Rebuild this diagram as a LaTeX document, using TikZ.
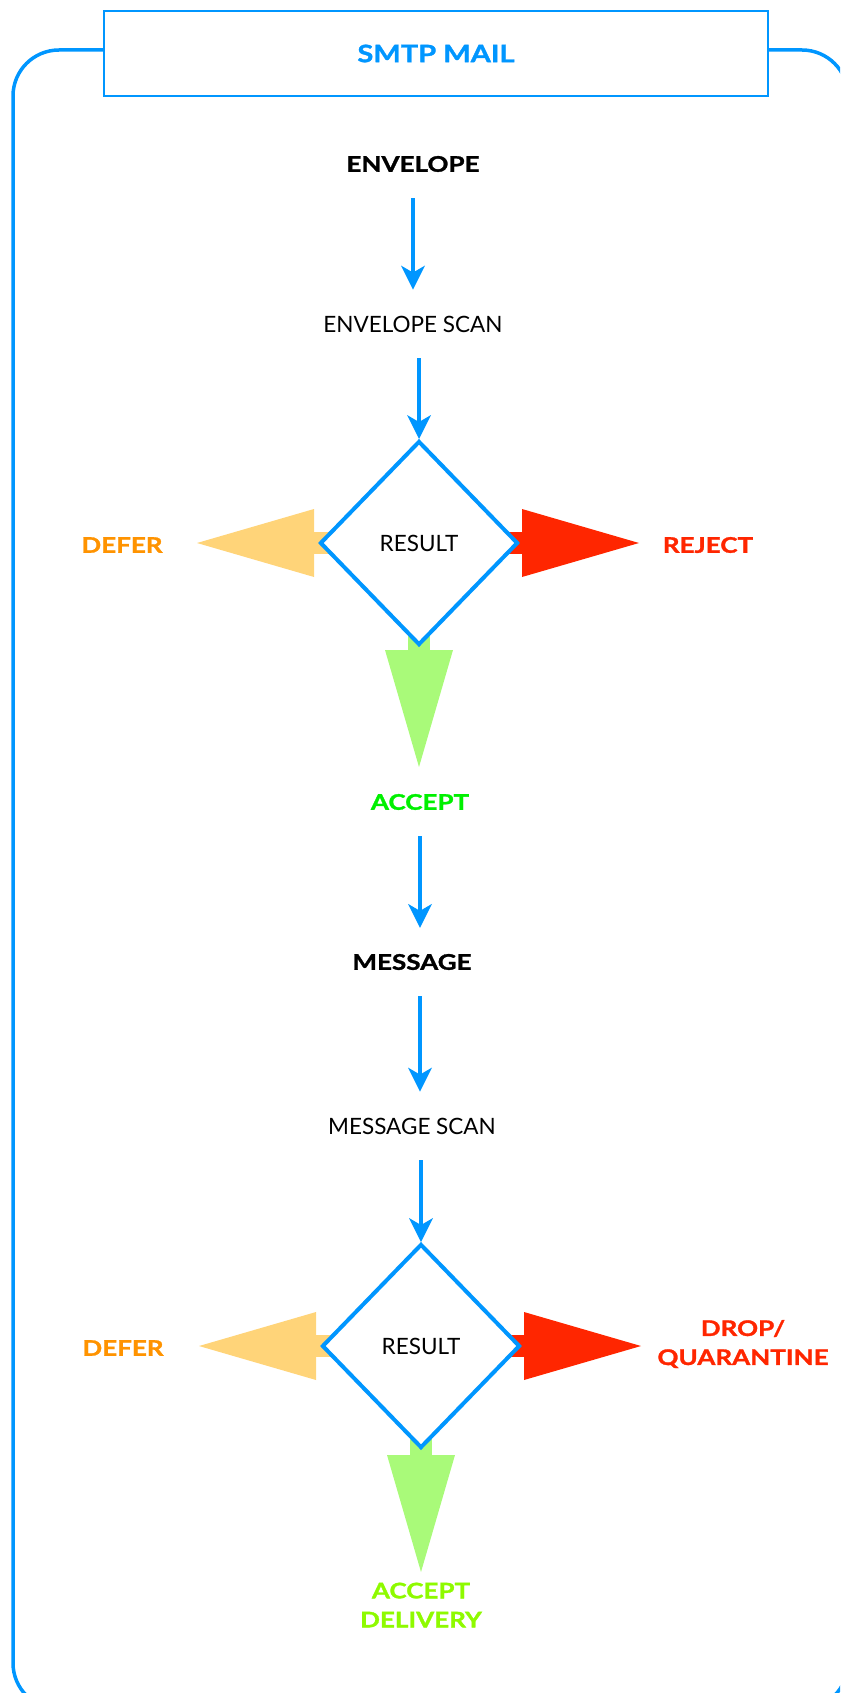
\documentclass[tikz,border=0pt]{standalone}
\usepackage{fontspec}
\setmainfont{Lato}
\newfontfamily\heavyfont{Lato}[FakeBold=1.4, FakeStretch=1.21]
\usetikzlibrary{shapes.geometric,arrows.meta,backgrounds}

\definecolor{aqua}{RGB}{0,150,255}
\definecolor{cantaloupe}{RGB}{255,212,121}
\definecolor{tangerine}{RGB}{255,147,0}
\definecolor{maraschino}{RGB}{255,38,0}
\definecolor{honeydew}{RGB}{169,250,121}
\definecolor{spring}{RGB}{0,240,0}
\definecolor{lime}{RGB}{142,250,0}

\tikzset{
    scan/.style={inner sep=0pt, font=\fontsize{22.5}{26}\selectfont},
    stage/.style={inner sep=0pt, font=\fontsize{21.5}{25}\selectfont\heavyfont\bfseries},
    outcome/.style={stage, align=center, font=\fontsize{21.5}{29}\selectfont\heavyfont\bfseries},
    titlebox/.style={rectangle, draw=aqua, line width=2.5pt, fill=white, text=aqua,
        minimum width=664pt, minimum height=85pt, font=\fontsize{24}{28}\selectfont\heavyfont\bfseries},
    result/.style={diamond, draw=aqua, line width=4pt, fill=white, inner sep=0pt,
        minimum width=198pt, minimum height=204pt, font=\fontsize{22.5}{26}\selectfont},
    flow/.style={draw=aqua, line width=4.5pt, shorten <=26pt, shorten >=26pt,
        -{Stealth[length=24pt,width=24pt,inset=7pt,line width=0pt]}},
    fat/.style={line width=22pt, -{Triangle[length=117pt,width=68pt,line width=0pt]}},
}

\begin{document}
\begin{tikzpicture}[x=1pt,y=-1pt]
    \useasboundingbox (0,0) rectangle (840,1693);
    % outer frame
    \begin{scope}
        \clip (0,0) rectangle (840,1693);
        \draw[aqua, line width=3.5pt, rounded corners=46pt] (13,50) rectangle (848,1709);
    \end{scope}
    \node[titlebox] (title) at (436,53.5) {SMTP MAIL};

    % envelope
    \node[stage] (env) at (413,164) {ENVELOPE};
    \node[scan] (envscan) at (413,324) {ENVELOPE SCAN};
    \node[result] (res1) at (419,543) {RESULT};
    \node[outcome, tangerine] (defer1) at (122,545) {DEFER};
    \node[outcome, maraschino] (reject) at (708,545) {REJECT};
    \node[outcome, spring] (accept) at (420,802) {ACCEPT};
    \coordinate (deferTip1) at (197,543);
    \coordinate (rejectTip) at (639,543);
    \coordinate (acceptTip) at (419,767);

    % message
    \node[stage] (msg) at (412,962) {MESSAGE};
    \node[scan] (msgscan) at (412,1126) {MESSAGE SCAN};
    \node[result] (res2) at (421,1346) {RESULT};
    \node[outcome, tangerine] (defer2) at (123,1348) {DEFER};
    \node[outcome, maraschino] (drop) at (743,1344) {DROP/\\QUARANTINE};
    \node[outcome, lime] (deliver) at (421,1605) {ACCEPT\\DELIVERY};
    \coordinate (deferTip2) at (199,1346);
    \coordinate (dropTip) at (641,1346);
    \coordinate (deliverTip) at (421,1572);

    % flow
    \draw[flow] (env) -- (envscan);
    \draw[flow, shorten >=0pt] (envscan.south -| res1) -- (res1.north);
    \draw[flow] (accept) -- (accept |- msg.north);
    \draw[flow] (msg.south -| accept) -- (msgscan.north -| accept);
    \draw[flow, shorten >=0pt] (msgscan.south -| res2) -- (res2.north);

    % results
    \begin{scope}[on background layer]
        \draw[fat, cantaloupe] (res1.center) -- (deferTip1);
        \draw[fat, maraschino] (res1.center) -- (rejectTip);
        \draw[fat, honeydew] (res1.center) -- (acceptTip);
        \draw[fat, cantaloupe] (res2.center) -- (deferTip2);
        \draw[fat, maraschino] (res2.center) -- (dropTip);
        \draw[fat, honeydew] (res2.center) -- (deliverTip);
    \end{scope}
\end{tikzpicture}
\end{document}
